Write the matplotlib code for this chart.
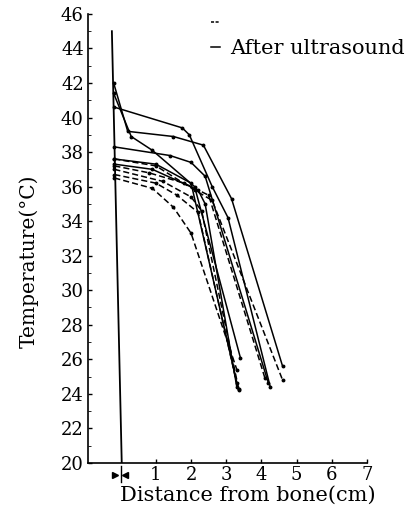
import matplotlib
matplotlib.use("Agg")
import matplotlib.pyplot as plt
from matplotlib.lines import Line2D

# Temperature profiles (x = distance from bone in cm, y = temperature in deg C)
# After ultrasound (solid)
after_x = [
    [-0.2, 0.2, 1.5, 2.35, 3.15, 4.6],
    [-0.18, 1.75, 1.95, 2.6, 3.05, 4.25],
    [-0.2, 0.3, 0.9, 2.1, 3.4],
    [-0.18, 1.4, 2.0, 2.4, 4.2],
    [-0.18, 1.0, 2.0, 3.35],
    [-0.18, 0.9, 2.2, 2.4, 3.3],
]
after_y = [
    [42.0, 39.2, 38.9, 38.4, 35.3, 25.6],
    [40.6, 39.4, 39.0, 36.0, 34.2, 24.4],
    [41.4, 38.9, 38.1, 36.0, 26.1],
    [38.3, 37.8, 37.4, 36.6, 24.6],
    [37.6, 37.3, 36.2, 24.2],
    [37.3, 37.0, 35.8, 35.0, 24.4],
]

# Before ultrasound (dashed)
before_x = [
    [-0.18, 1.0, 2.1, 2.6, 4.6],
    [-0.18, 0.8, 1.8, 2.5, 4.1],
    [-0.18, 1.2, 2.0, 2.3, 3.35],
    [-0.18, 1.0, 1.6, 2.2, 3.3],
    [-0.18, 0.9, 1.5, 2.0, 3.3],
]
before_y = [
    [37.6, 37.2, 35.8, 35.2, 24.8],
    [37.2, 36.8, 36.2, 35.5, 24.9],
    [37.0, 36.3, 35.4, 34.6, 24.3],
    [36.7, 36.2, 35.5, 34.5, 24.6],
    [36.5, 35.9, 34.8, 33.3, 25.4],
]

# bone surface line
bone_x = [-0.25, 0.03]
bone_y = [45.0, 20.0]

x_ticks = [1, 2, 3, 4, 5, 6, 7]
y_ticks = list(range(20, 47, 2))

plt.rcParams['font.family'] = ['DejaVu Serif']

fig = plt.figure(figsize=(4.11, 5.16), dpi=100)
ax = fig.add_axes([0.214, 0.103, 0.679, 0.870])

for xs, ys in zip(before_x, before_y):
    ax.plot(xs, ys, color='black', lw=1.1, ls=(0, (4, 2)), marker='o', ms=1.8)
for xs, ys in zip(after_x, after_y):
    ax.plot(xs, ys, color='black', lw=1.1, ls='-', marker='o', ms=1.8)

ax.plot(bone_x, bone_y, color='black', lw=1.3)

# arrows marking the bone surface under the axis
ax.plot([-0.17], [19.3], marker='>', color='black', ms=4, clip_on=False)
ax.plot([0.12], [19.3], marker='<', color='black', ms=4, clip_on=False)
ax.plot([0.0, 0.0], [18.9, 19.8], color='black', lw=1, clip_on=False)

ax.set_xlim(-0.93, 7.0)
ax.set_ylim(20, 46)
ax.set_xticks(x_ticks)
ax.set_yticks(y_ticks)
ax.set_yticks(range(21, 46, 2), minor=True)
ax.tick_params(axis='both', labelsize=13, direction='in', length=3, width=1, pad=3)
ax.tick_params(axis='x', pad=2)
ax.tick_params(axis='y', which='minor', direction='in', length=2)
ax.spines['top'].set_visible(False)
ax.spines['right'].set_visible(False)
ax.spines['left'].set_linewidth(1.2)
ax.spines['bottom'].set_linewidth(1.2)

ax.set_xlabel('Distance from bone(cm)', fontsize=15)
ax.xaxis.set_label_coords(0.573, -0.05)
ax.set_ylabel('Temperature(°C)', fontsize=14.5)
ax.yaxis.set_label_coords(-0.175, 0.45)

handles = [Line2D([], [], color='black', lw=1.1, ls=(0, (2, 1))),
           Line2D([], [], color='black', lw=1.1, ls='-')]
ax.legend(handles, ['', 'After ultrasound'], loc='upper left',
          bbox_to_anchor=(0.44, 1.0), frameon=False, fontsize=15,
          borderpad=0, borderaxespad=0,
          handlelength=0.45, handletextpad=0.5, labelspacing=0.3)

fig.savefig('out.png', dpi=100)
